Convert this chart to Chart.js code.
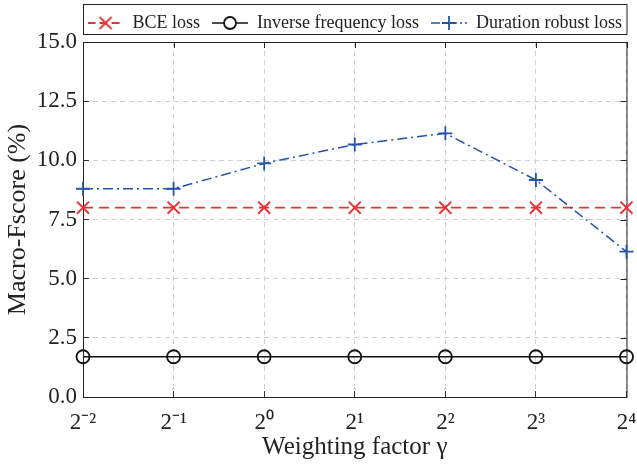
<!DOCTYPE html>
<html>
<head>
<meta charset="utf-8">
<script src="https://cdn.jsdelivr.net/npm/chart.js@4/dist/chart.umd.min.js"></script>
<style>
html,body{margin:0;padding:0;background:#fff;}
#wrap{width:637px;height:465px;}
</style>
</head>
<body>
<div id="wrap"><canvas id="c" width="637" height="465"></canvas></div>
<script>
// ---- data ----
const exponents = [-2, -1, 0, 1, 2, 3, 4];
const bceLoss = [8.0, 8.0, 8.0, 8.0, 8.0, 8.0, 8.0];
const inverseFreqLoss = [1.7, 1.7, 1.7, 1.7, 1.7, 1.7, 1.7];
const durationRobustLoss = [8.8, 8.8, 9.87, 10.67, 11.14, 9.17, 6.14];
const seriesNames = ['BCE loss', 'Inverse frequency loss', 'Duration robust loss'];
const yTicks = [0, 2.5, 5, 7.5, 10, 12.5, 15];

const SUP = {'-':'\u207B','0':'\u2070','1':'\u00B9','2':'\u00B2','3':'\u00B3','4':'\u2074','5':'\u2075','6':'\u2076','7':'\u2077','8':'\u2078','9':'\u2079'};
function powLabel(e){ return '2' + String(e).split('').map(ch => SUP[ch] || ch).join(''); }

const RED = 'rgb(232,52,56)';
const BLACK = '#111';
const BLUE = 'rgb(36,84,168)';
const FONT = "'Liberation Serif','Times New Roman',serif";

Chart.defaults.font.family = FONT;
Chart.defaults.color = '#222';

function pts(vals){ return exponents.map((e,i)=>({x:e, y:vals[i]})); }

function legendIcon(color, dash, lineW, style, radius){
  const c = document.createElement('canvas');
  c.width = 36; c.height = 18;
  const g = c.getContext('2d');
  g.strokeStyle = color; g.lineWidth = lineW; g.setLineDash(dash);
  g.beginPath(); g.moveTo(0, 9); g.lineTo(36, 9); g.stroke();
  g.setLineDash([]);
  g.strokeStyle = color;
  g.lineWidth = 1.8;
  if (style === 'circle') {
    g.fillStyle = '#fff';
    g.beginPath(); g.arc(18, 9, radius, 0, Math.PI*2); g.fill(); g.stroke();
  } else {
    g.fillStyle = 'rgba(0,0,0,0)';
    Chart.helpers.drawPoint(g, {pointStyle: style, radius: radius, borderWidth: 1.8, rotation: 0}, 18, 9);
  }
  return c;
}

const icons = [
  legendIcon(RED, [8,4], 1.8, 'crossRot', 8.5),
  legendIcon(BLACK, [], 1.4, 'circle', 6),
  legendIcon(BLUE, [9,3,2,3], 1.5, 'cross', 7)
];

const framePlugin = {
  id: 'frame',
  beforeDraw(chart){
    const a = chart.chartArea, lg = chart.legend;
    if (lg && !lg._shifted) {
      const shift = (a.left + a.right) / 2 - (lg.left + lg.right) / 2;
      lg.left += shift; lg.right += shift; lg._shifted = true;
    }
  },
  beforeDatasetsDraw(chart){
    const {ctx, chartArea: a} = chart;
    ctx.save();
    ctx.strokeStyle = '#222'; ctx.lineWidth = 1;
    ctx.strokeRect(a.left + 0.5, a.top + 0.5, a.right - a.left, a.bottom - a.top);
    const xs = chart.scales.x, ys = chart.scales.y;
    ctx.beginPath();
    exponents.forEach(e => { const px = Math.round(xs.getPixelForValue(e)) + 0.5; ctx.moveTo(px, a.top); ctx.lineTo(px, a.top + 6); });
    yTicks.forEach(v => { const py = Math.round(ys.getPixelForValue(v)) + 0.5; ctx.moveTo(a.right, py); ctx.lineTo(a.right - 6, py); });
    ctx.stroke();
    ctx.restore();
  },
  afterDraw(chart){
    const {ctx, chartArea: a} = chart;
    ctx.save();
    ctx.strokeStyle = '#222'; ctx.lineWidth = 1;
    ctx.strokeRect(a.left + 0.5, 4.5, a.right - a.left, 30);
    ctx.restore();
  }
};

new Chart(document.getElementById('c'), {
  type: 'line',
  data: {
    datasets: [
      { label: seriesNames[0], data: pts(bceLoss), borderColor: RED, backgroundColor: RED, borderWidth: 1.8, borderDash: [10,6],
        pointStyle: 'crossRot', pointRadius: 8.5, pointBorderWidth: 2, pointBorderColor: RED, clip: false, order: 2 },
      { label: seriesNames[1], data: pts(inverseFreqLoss), borderColor: BLACK, backgroundColor: BLACK, borderWidth: 1.4,
        pointStyle: 'circle', pointRadius: 6.5, pointBorderWidth: 1.8, pointBorderColor: BLACK, pointBackgroundColor: 'rgba(255,255,255,0)', clip: false, order: 3 },
      { label: seriesNames[2], data: pts(durationRobustLoss), borderColor: BLUE, backgroundColor: BLUE, borderWidth: 1.5, borderDash: [10,4,2,4],
        pointStyle: 'cross', pointRadius: 7, pointBorderWidth: 1.8, pointBorderColor: BLUE, clip: false, order: 1 }
    ]
  },
  options: {
    responsive: false,
    animation: false,
    devicePixelRatio: 1,
    layout: { padding: { top: 2, right: 0, left: 0, bottom: 0 } },
    plugins: {
      tooltip: { enabled: false },
      legend: {
        position: 'top',
        align: 'center',
        labels: {
          usePointStyle: true,
          pointStyleWidth: 36,
          padding: 12,
          font: { size: 18, family: FONT },
          color: '#222',
          generateLabels(chart){
            return chart.data.datasets.map((ds, i) => ({
              text: ds.label, pointStyle: icons[i], datasetIndex: i, hidden: false,
              fillStyle: 'transparent', strokeStyle: 'transparent', lineWidth: 0, fontColor: '#222'
            }));
          }
        }
      }
    },
    scales: {
      x: {
        type: 'linear', min: -2, max: 4,
        afterFit(s){ s.height = 68; s.paddingRight = 10; },
        ticks: { stepSize: 1, padding: 18, font: { size: 23 }, color: '#222', maxRotation: 0,
          callback: (v) => powLabel(v) },
        grid: { color: '#cfcfcf', lineWidth: 1, tickLength: -6, tickColor: '#333', tickWidth: 1, tickBorderDash: [] },
        border: { display: true, color: '#222', width: 1, dash: [5,4] },
        title: { display: true, text: 'Weighting factor \u03B3', font: { size: 25 }, color: '#222', padding: { top: 0, bottom: 3 } }
      },
      y: {
        min: 0, max: 15,
        afterFit(s){ s.width = 83; },
        ticks: { stepSize: 2.5, padding: 12, font: { size: 23 }, color: '#222',
          callback: (v) => Number(v).toFixed(1) },
        grid: { color: '#cfcfcf', lineWidth: 1, tickLength: -6, tickColor: '#333', tickWidth: 1, tickBorderDash: [] },
        border: { display: true, color: '#222', width: 1, dash: [5,4] },
        title: { display: true, text: 'Macro-Fscore (%)', font: { size: 26 }, color: '#222', padding: { top: 3, bottom: 0 } }
      }
    }
  },
  plugins: [framePlugin]
});
</script>
</body>
</html>
